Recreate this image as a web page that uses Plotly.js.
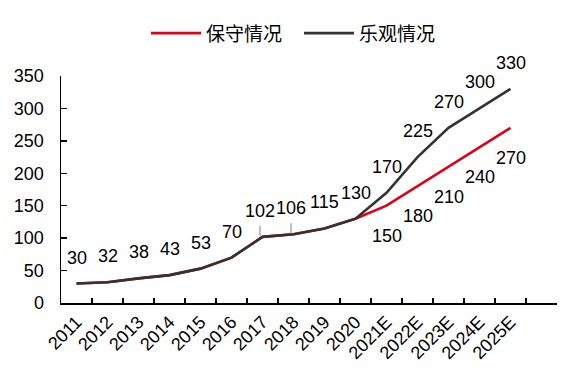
<!DOCTYPE html>
<html>
<head>
<meta charset="utf-8">
<script src="https://cdn.plot.ly/plotly-3.0.1.min.js"></script>
<style>html,body{margin:0;padding:0;background:#fff;}#chart{width:581px;height:376px;}</style>
</head>
<body>
<div id="chart"></div>
<script>
var years = ['2011','2012','2013','2014','2015','2016','2017','2018','2019','2020','2021E','2022E','2023E','2024E','2025E'];
var conservative = [30,32,38,43,53,70,102,106,115,130,150,180,210,240,270];
var optimistic = [30,32,38,43,53,70,102,106,115,130,170,225,270,300,330];
var seriesNames = ['保守情况','乐观情况'];
var leaderYears = ['2017','2018'];

var FONT = 'Liberation Sans, Arial, Noto Sans CJK SC, sans-serif';
var forecastStart = years.indexOf('2021E');

var traces = [
  {x: years, y: conservative, name: seriesNames[0], mode: 'lines', type: 'scatter',
   line: {color: '#E0001A', width: 2.6}},
  {x: years, y: optimistic, name: seriesNames[1], mode: 'lines', type: 'scatter',
   line: {color: '#333333', width: 2.6}}
];

var annotations = [];
years.forEach(function(yr, i) {
  annotations.push({x: i, y: optimistic[i], text: String(optimistic[i]), showarrow: false,
    yshift: 26, xshift: (leaderYears.indexOf(yr) >= 0 ? -3 : 0),
    font: {family: FONT, size: 18, color: '#000'}});
  if (i >= forecastStart) {
    annotations.push({x: i, y: conservative[i], text: String(conservative[i]), showarrow: false,
      yshift: -30, font: {family: FONT, size: 18, color: '#000'}});
  }
});

var shapes = leaderYears.map(function(yr) {
  var i = years.indexOf(yr);
  return {type: 'line', xref: 'x', yref: 'y', x0: i - 0.08, x1: i - 0.08,
    ysizemode: 'pixel', yanchor: optimistic[i], y0: 1, y1: 11,
    line: {color: '#aaaaaa', width: 1.5}};
});

var layout = {
  width: 581, height: 376,
  margin: {l: 61, r: 24, t: 76, b: 73},
  paper_bgcolor: '#fff', plot_bgcolor: '#fff',
  font: {family: FONT, size: 18, color: '#000'},
  showlegend: true,
  legend: {orientation: 'h', x: 146 / 581, xanchor: 'left', xref: 'container',
    y: 0.962, yanchor: 'top', yref: 'container',
    font: {family: FONT, size: 19, color: '#000'}, itemwidth: 50, entrywidth: 88,
    traceorder: 'normal'},
  xaxis: {type: 'category', range: [-0.5, 15.5], tickson: 'boundaries',
    ticks: 'inside', ticklen: 5, tickwidth: 1.5, tickcolor: '#000',
    showline: true, linecolor: '#000', linewidth: 1.5, showgrid: false, zeroline: false,
    tickangle: -45, tickfont: {family: FONT, size: 18, color: '#000'}},
  yaxis: {range: [0, 350], dtick: 50, ticks: 'inside', ticklen: 6, tickwidth: 1.5,
    tickcolor: '#000', showline: true, linecolor: '#000', linewidth: 1.5,
    showgrid: false, zeroline: false, ticklabelstandoff: 12,
    tickfont: {family: FONT, size: 18, color: '#000'}},
  annotations: annotations,
  shapes: shapes
};

Plotly.newPlot('chart', traces, layout, {staticPlot: true});
</script>
</body>
</html>
